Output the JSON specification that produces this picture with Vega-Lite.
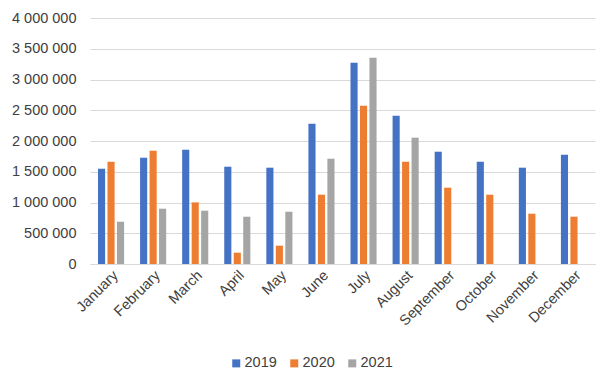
{
  "$schema": "https://vega.github.io/schema/vega-lite/v6.json",
  "width": 505,
  "height": 246,
  "autosize": {"type": "none"},
  "padding": {"left": 90, "top": 18, "right": 19, "bottom": 121},
  "background": "white",
  "config": {
    "locale": {"number": {"decimal": ",", "thousands": " ", "grouping": [3], "currency": ["", ""]}},
    "font": "Liberation Sans",
    "view": {"stroke": null},
    "axis": {"labelFont": "Liberation Sans", "labelColor": "#404040", "labelFontSize": 14.5}
  },
  "data": {
    "values": [
      {"month": "January", "year": "2019", "value": 1550000},
      {"month": "January", "year": "2020", "value": 1663000},
      {"month": "January", "year": "2021", "value": 688000},
      {"month": "February", "year": "2019", "value": 1728000},
      {"month": "February", "year": "2020", "value": 1842000},
      {"month": "February", "year": "2021", "value": 899000},
      {"month": "March", "year": "2019", "value": 1858000},
      {"month": "March", "year": "2020", "value": 1002000},
      {"month": "March", "year": "2021", "value": 867000},
      {"month": "April", "year": "2019", "value": 1582000},
      {"month": "April", "year": "2020", "value": 184000},
      {"month": "April", "year": "2021", "value": 769000},
      {"month": "May", "year": "2019", "value": 1566000},
      {"month": "May", "year": "2020", "value": 298000},
      {"month": "May", "year": "2021", "value": 850000},
      {"month": "June", "year": "2019", "value": 2282000},
      {"month": "June", "year": "2020", "value": 1127000},
      {"month": "June", "year": "2021", "value": 1712000},
      {"month": "July", "year": "2019", "value": 3273000},
      {"month": "July", "year": "2020", "value": 2574000},
      {"month": "July", "year": "2021", "value": 3354000},
      {"month": "August", "year": "2019", "value": 2411000},
      {"month": "August", "year": "2020", "value": 1663000},
      {"month": "August", "year": "2021", "value": 2054000},
      {"month": "September", "year": "2019", "value": 1826000},
      {"month": "September", "year": "2020", "value": 1241000},
      {"month": "October", "year": "2019", "value": 1663000},
      {"month": "October", "year": "2020", "value": 1127000},
      {"month": "November", "year": "2019", "value": 1566000},
      {"month": "November", "year": "2020", "value": 818000},
      {"month": "December", "year": "2019", "value": 1777000},
      {"month": "December", "year": "2020", "value": 769000}
    ]
  },
  "mark": {"type": "bar"},
  "encoding": {
    "x": {
      "field": "month",
      "type": "nominal",
      "sort": null,
      "scale": {"paddingInner": 0.38, "paddingOuter": 0.19},
      "axis": {
        "title": null,
        "labelAngle": -45,
        "ticks": false,
        "domainColor": "#D9D9D9",
        "labelPadding": 4
      }
    },
    "xOffset": {
      "field": "year",
      "type": "nominal",
      "scale": {"domain": ["2019", "2020", "2021"], "paddingInner": 0.25, "paddingOuter": 0}
    },
    "y": {
      "field": "value",
      "type": "quantitative",
      "scale": {"domain": [0, 4000000], "nice": false},
      "axis": {
        "title": null,
        "format": ",d",
        "values": [0, 500000, 1000000, 1500000, 2000000, 2500000, 3000000, 3500000, 4000000],
        "labelOverlap": false,
        "domain": false,
        "ticks": false,
        "gridColor": "#D9D9D9",
        "labelPadding": 14
      }
    },
    "color": {
      "field": "year",
      "type": "nominal",
      "scale": {"domain": ["2019", "2020", "2021"], "range": ["#4472C4", "#ED7D31", "#A5A5A5"]},
      "legend": {
        "title": null,
        "orient": "none",
        "direction": "horizontal",
        "legendX": 139,
        "legendY": 338,
        "symbolType": "square",
        "symbolSize": 64,
        "symbolStrokeWidth": 0,
        "labelFontSize": 14.5,
        "labelColor": "#404040",
        "labelFont": "Liberation Sans",
        "columnPadding": 10,
        "labelOffset": 1
      }
    }
  }
}
